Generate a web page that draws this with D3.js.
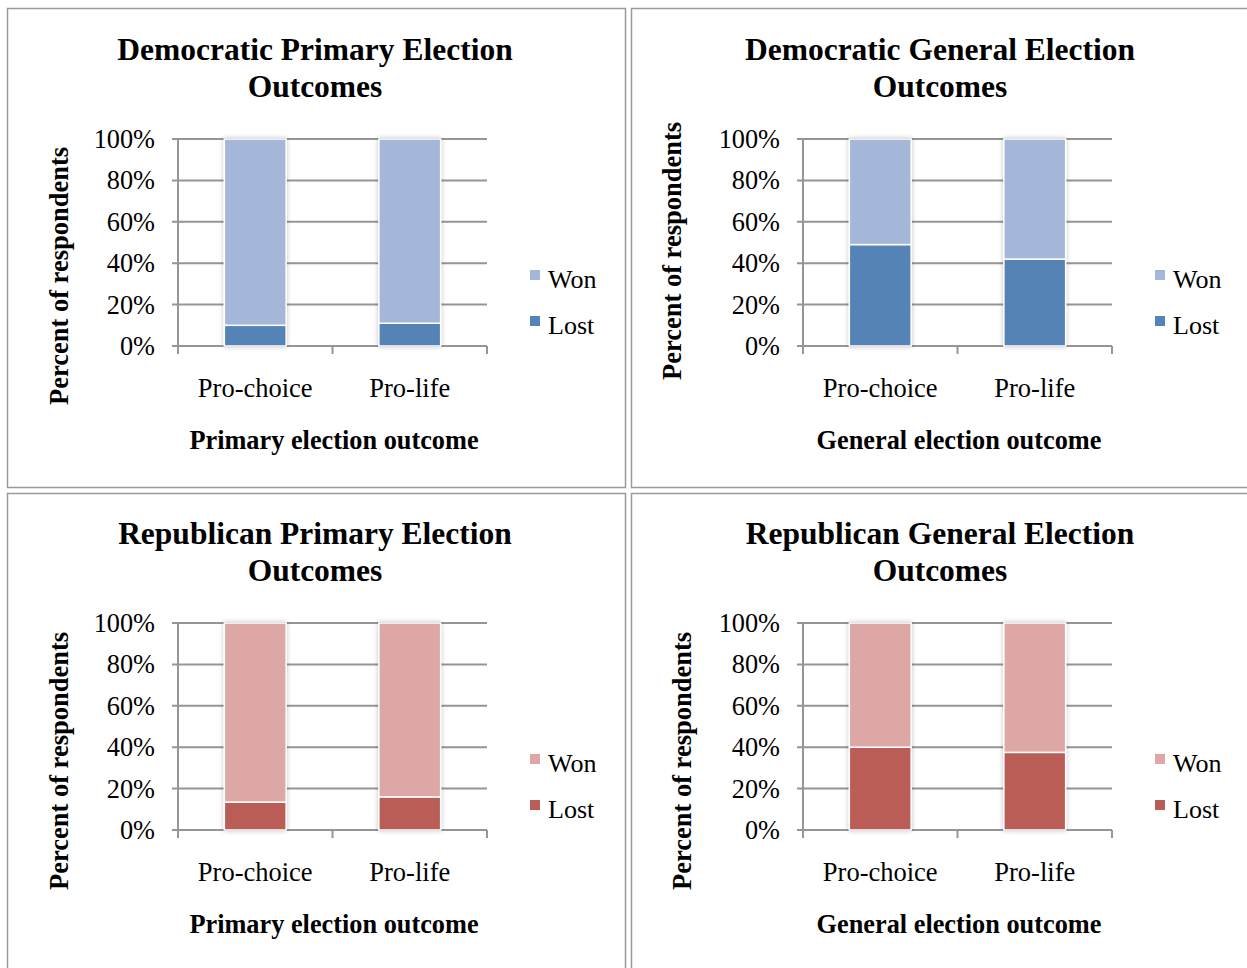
<!DOCTYPE html>
<html><head><meta charset="utf-8">
<script src="https://cdn.jsdelivr.net/npm/d3@7"></script>
<style>
body{margin:0;background:#fff;}
svg{display:block;}
text{font-family:"Liberation Serif","Times New Roman",serif;fill:#000;}
</style></head>
<body><svg id="c" width="1247" height="968"></svg>
<script>
const categories = ["Pro-choice", "Pro-life"];
const seriesNames = ["Won", "Lost"];
const yTicks = [0, 20, 40, 60, 80, 100];
const titles = [
  ["Democratic Primary Election", "Outcomes"],
  ["Democratic General Election", "Outcomes"],
  ["Republican Primary Election", "Outcomes"],
  ["Republican General Election", "Outcomes"]
];
const xTitles = ["Primary election outcome", "General election outcome", "Primary election outcome", "General election outcome"];
const yTitle = "Percent of respondents";
const demPrimaryLost = [10, 11];
const demPrimaryWon = [90, 89];
const demGeneralLost = [49, 42];
const demGeneralWon = [51, 58];
const repPrimaryLost = [13.5, 16];
const repPrimaryWon = [86.5, 84];
const repGeneralLost = [40, 37.5];
const repGeneralWon = [60, 62.5];

const blue = {Won: "#a4b7d9", Lost: "#5483b6"};
const red = {Won: "#dca7a4", Lost: "#b95d56"};

const panels = [
  {ox: 0, oy: 0, lost: demPrimaryLost, won: demPrimaryWon, col: blue, ylx: 60, yly: 276},
  {ox: 625, oy: 0, lost: demGeneralLost, won: demGeneralWon, col: blue, ylx: 48, yly: 251},
  {ox: 0, oy: 484, lost: repPrimaryLost, won: repPrimaryWon, col: red, ylx: 60, yly: 277},
  {ox: 625, oy: 484, lost: repGeneralLost, won: repGeneralWon, col: red, ylx: 58, yly: 277}
];

const svg = d3.select("#c");
const defs = svg.append("defs");
const f = defs.append("filter").attr("id","sh").attr("x","-20%").attr("y","-5%").attr("width","140%").attr("height","110%");
f.append("feGaussianBlur").attr("in","SourceAlpha").attr("stdDeviation",2.5).attr("result","b");
f.append("feComponentTransfer").attr("in","b").attr("result","b2").append("feFuncA").attr("type","linear").attr("slope",0.25);
const fm = f.append("feMerge"); fm.append("feMergeNode").attr("in","b2"); fm.append("feMergeNode").attr("in","SourceGraphic");

// panel borders
const borders = [[7,8,618,479],[631,8,620,479],[7,493,618,480],[631,493,620,480]];
borders.forEach(b => {
  svg.append("rect").attr("x",b[0]+0.5).attr("y",b[1]+0.5).attr("width",b[2]).attr("height",b[3])
    .attr("fill","none").attr("stroke","#9a9a9a").attr("stroke-width",1.5);
});

const grid = "#959595";
panels.forEach((p, i) => {
  const g = svg.append("g").attr("transform", `translate(${p.ox},${p.oy})`);
  const x0 = 178, x1 = 487, yTop = 139, yBot = 346;
  const y = d3.scaleLinear().domain([0,100]).range([yBot, yTop]);
  const x = d3.scaleBand().domain(categories).range([x0, x1]).paddingInner(0.6).paddingOuter(0.3);

  // title
  g.append("text").attr("x", 315).attr("y", 60).attr("text-anchor","middle")
    .attr("font-size", 31.5).attr("font-weight","bold").text(titles[i][0]);
  g.append("text").attr("x", 315).attr("y", 97).attr("text-anchor","middle")
    .attr("font-size", 31.5).attr("font-weight","bold").text(titles[i][1]);

  // gridlines
  g.selectAll(".gl").data(yTicks).enter().append("line")
    .attr("x1", x0 - 6).attr("x2", x1).attr("y1", d => y(d)).attr("y2", d => y(d))
    .attr("stroke", grid).attr("stroke-width", 2);
  // y axis
  g.append("line").attr("x1", x0).attr("x2", x0).attr("y1", yTop).attr("y2", yBot + 7).attr("stroke", grid).attr("stroke-width", 2);
  // x ticks
  const xt = [x0, (x0 + x1) / 2, x1];
  xt.forEach(v => g.append("line").attr("x1", v).attr("x2", v).attr("y1", yBot).attr("y2", yBot + 8).attr("stroke", grid).attr("stroke-width", 2));

  // y tick labels
  g.selectAll(".yl").data(yTicks).enter().append("text")
    .attr("x", 155).attr("y", d => y(d) + 9).attr("text-anchor","end").attr("font-size", 26.3)
    .text(d => d + "%");

  // stacked bars
  const rows = categories.map((c, k) => ({cat: c, Lost: p.lost[k], Won: p.won[k]}));
  const stack = d3.stack().keys(["Lost","Won"])(rows);
  const bars = g.append("g").attr("filter","url(#sh)");
  stack.forEach(s => {
    bars.selectAll(null).data(s).enter().append("rect")
      .attr("x", d => x(d.data.cat)).attr("width", x.bandwidth())
      .attr("y", d => y(d[1])).attr("height", d => y(d[0]) - y(d[1]))
      .attr("fill", p.col[s.key]).attr("stroke","#fff").attr("stroke-width",1.5);
  });

  // category labels
  g.selectAll(".cl").data(categories).enter().append("text")
    .attr("x", d => x(d) + x.bandwidth()/2).attr("y", 397).attr("text-anchor","middle")
    .attr("font-size", 26.5).text(d => d);

  // x title
  g.append("text").attr("x", 334).attr("y", 449).attr("text-anchor","middle")
    .attr("font-size", 26.3).attr("font-weight","bold").text(xTitles[i]);

  // y title
  g.append("text").attr("transform", `translate(${p.ylx + 8},${p.yly}) rotate(-90)`)
    .attr("text-anchor","middle").attr("font-size", 26.5).attr("font-weight","bold").text(yTitle);

  // legend
  seriesNames.forEach((s, k) => {
    const ly = 280 + k * 46;
    g.append("rect").attr("x", 530).attr("y", ly - 10).attr("width", 10).attr("height", 10).attr("fill", p.col[s]);
    g.append("text").attr("x", 548).attr("y", ly + 8).attr("font-size", 26).text(s);
  });
});
</script></body></html>
